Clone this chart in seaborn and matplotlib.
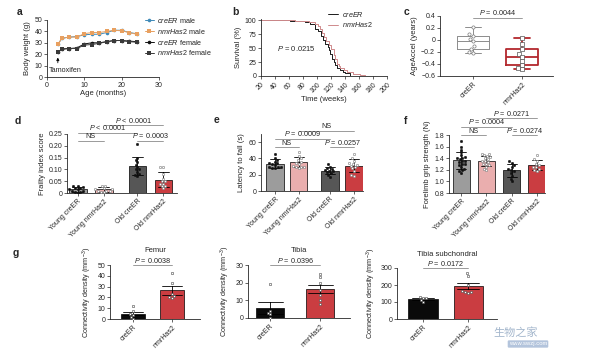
import numpy as np
import pandas as pd
import matplotlib.pyplot as plt
import seaborn as sns

sns.set_style("ticks")
plt.rcParams['font.family'] = ['Liberation Sans', 'DejaVu Sans']
plt.rcParams['mathtext.fontset'] = 'custom'
plt.rcParams['mathtext.rm'] = 'Liberation Sans'
plt.rcParams['mathtext.it'] = 'Liberation Sans:italic'
plt.rcParams['axes.linewidth'] = 0.6

W, H = 598, 353

# ---- a: body weight
ages = [3, 4, 6, 8, 10, 12, 14, 16, 18, 20, 22, 24]
creer_male = [29, 34, 35, 35.5, 37, 37.5, 37.5, 39, 41, 41, 39, 38]
has2_male = [29, 34, 35, 35, 38, 39, 39, 40, 41, 40.5, 39, 37.5]
creer_female = [22, 24.5, 25, 25.5, 29, 30, 30, 31, 32, 32, 31.5, 31]
has2_female = [22, 24.5, 25, 25, 28, 28.5, 29.5, 31, 32, 32, 31, 30.5]

# ---- b: survival
creer_weeks = [20, 62, 75, 83, 90, 97, 101, 105, 109, 112, 115, 117, 119, 121, 124, 126, 129, 133, 137, 140, 147]
creer_surv = [100, 99, 98, 96, 93, 84, 80, 72, 65, 58, 52, 46, 39, 31, 25, 19, 14, 10, 7, 5, 0]
has2_weeks = [20, 68, 80, 88, 97, 101, 104, 107, 110, 113, 117, 120, 124, 126, 128, 131, 133, 138, 143, 152, 161, 168]
has2_surv = [100, 99, 98, 97, 93, 90, 84, 77, 69, 62, 55, 48, 37, 30, 22, 18, 14, 11, 8, 4, 1, 0]

# ---- c: AgeAccel
c_groups = ['creER', 'nmrHas2']
c_creer = [0.22, 0.10, 0.07, 0.02, -0.02, -0.10, -0.15, -0.20, -0.21]
c_has2 = [0.03, -0.07, -0.15, -0.24, -0.28, -0.35, -0.42, -0.47, -0.49]

# ---- d, e, f: four groups
groups4 = ['Young creER', 'Young nmrHas2', 'Old creER', 'Old nmrHas2']
colors4 = ['#9c9c9c', '#f4a4a4', '#565656', '#e2252b']
d_vals = [
    [0, 0.005, 0.01, 0.015, 0.02, 0.025, 0.03, 0.03, 0.01, 0.02, 0.005, 0.015],
    [0.005, 0.01, 0.015, 0.02, 0.03, 0.03, 0.01, 0.005, 0.015, 0.01],
    [0.206, 0.15, 0.14, 0.13, 0.12, 0.11, 0.10, 0.09, 0.08, 0.075, 0.07, 0.10],
    [0.11, 0.11, 0.08, 0.06, 0.05, 0.04, 0.03, 0.03, 0.02, 0.04, 0.05],
]
e_vals = [
    [45, 40, 38, 36, 35, 34, 33, 32, 30, 29, 28, 28, 30],
    [48, 43, 40, 38, 36, 35, 33, 31, 30, 29, 28, 30],
    [33, 30, 28, 27, 26, 25, 24, 23, 22, 20, 17],
    [45, 40, 37, 34, 32, 31, 30, 28, 25, 20, 18, 33],
]
f_vals = [
    [1.7, 1.6, 1.55, 1.5, 1.45, 1.42, 1.4, 1.38, 1.35, 1.33, 1.3, 1.28, 1.25, 1.22, 1.2, 1.18, 1.15, 1.4, 1.36, 1.3],
    [1.48, 1.47, 1.45, 1.44, 1.42, 1.4, 1.38, 1.35, 1.33, 1.3, 1.28, 1.25, 1.22, 1.2, 1.3, 1.36],
    [1.35, 1.32, 1.28, 1.25, 1.2, 1.18, 1.15, 1.1, 1.05, 1.0, 1.22],
    [1.46, 1.38, 1.35, 1.3, 1.28, 1.25, 1.22, 1.2, 1.18, 1.25],
]

# ---- g: connectivity density
groups2 = ['creER', 'nmrHas2']
femur_vals = [[12, 7, 5, 4, 2, 0], [43, 33, 23, 21, 20, 19]]
tibia_vals = [[19, 4, 3, 2, 0], [25, 23, 20, 16, 13, 10, 8]]
sub_vals = [[128, 125, 126, 110, 100], [270, 255, 200, 160, 155, 158, 165]]

fig = plt.figure(figsize=(5.98, 3.53), dpi=100)


def px_axes(l, r, t, b):
    ax = fig.add_axes([l / W, 1 - b / H, (r - l) / W, (b - t) / H])
    ax.tick_params(labelsize=5, length=2, width=0.5, pad=1.5)
    sns.despine(ax=ax)
    return ax


def bracket(ax, x1, x2, y, text):
    ax.plot([x1, x2], [y, y], color='#8a8a8a', lw=0.6, clip_on=False)
    ax.annotate(text, xy=((x1 + x2) / 2, y), xytext=(0, 0.3), textcoords='offset points',
                ha='center', va='bottom', fontsize=5.2, annotation_clip=False)


def bar_panel(ax, pos, groups, values, colors, styles, width, err, capsize=0.4):
    df = pd.DataFrame({
        'pos': np.repeat(pos, [len(v) for v in values]),
        'grp': np.repeat(groups, [len(v) for v in values]),
        'val': np.concatenate(values),
    })
    sns.barplot(data=df, x='pos', y='val', hue='grp', palette=dict(zip(groups, colors)),
                native_scale=True, dodge=False, errorbar=err, capsize=capsize, width=width,
                edgecolor='black', linewidth=0.5,
                err_kws={'color': 'black', 'linewidth': 0.6}, legend=False, ax=ax)
    for p, v, (mk, fc, ec) in zip(pos, values, styles):
        sns.swarmplot(x=[p] * len(v), y=v, native_scale=True, orient='v', marker=mk, size=1.7,
                      color=fc, edgecolor=ec, linewidth=0.4, ax=ax)
    ax.set_xlabel('')
    ax.set_ylabel('')


def rot_labels(ax, pos, labels):
    ax.set_xticks(pos, labels, rotation=45, ha='right', rotation_mode='anchor')


# ================= a
ax = px_axes(47, 159, 20, 77)
series = [
    (creer_male, '#3f8ab8', 'o', r'$\mathit{creER}$ male'),
    (has2_male, '#e8a060', 's', r'$\mathit{nmrHas2}$ male'),
    (creer_female, '#111111', 'o', r'$\mathit{creER}$ female'),
    (has2_female, '#3a3a3a', 's', r'$\mathit{nmrHas2}$ female'),
]
for vals, col, mk, lab in series:
    sns.lineplot(x=ages, y=vals, color=col, marker=mk, markersize=2.6, markeredgewidth=0,
                 linewidth=0.7, label=lab, ax=ax)
ax.set_xlim(0, 30)
ax.set_ylim(0, 50)
ax.set_xticks([0, 10, 20, 30])
ax.set_yticks([0, 10, 20, 30, 40, 50])
ax.set_xlabel('Age (months)', fontsize=5.5, labelpad=1)
ax.set_ylabel('Body weight (g)', fontsize=5.5, labelpad=2)
ax.annotate('', xy=(2.9, 19.5), xytext=(2.9, 10),
            arrowprops=dict(arrowstyle='-|>', lw=0.6, color='black', mutation_scale=4))
ax.text(5, 6, 'Tamoxifen', ha='center', va='center', fontsize=5.2)
ax.legend(loc='upper left', bbox_to_anchor=(145 / W, 1 - 16 / H), bbox_transform=fig.transFigure,
          frameon=False, fontsize=5.2, handlelength=1.2, handletextpad=0.5, labelspacing=0.25,
          borderaxespad=0, borderpad=0)

# ================= b
ax = px_axes(261, 387, 19, 76)
sns.lineplot(x=creer_weeks, y=creer_surv, color='#1a1a1a', linewidth=0.7, drawstyle='steps-post',
             label=r'$\mathit{creER}$', ax=ax)
sns.lineplot(x=has2_weeks, y=has2_surv, color='#cf8a8c', linewidth=0.7, drawstyle='steps-post',
             label=r'$\mathit{nmrHas2}$', ax=ax)
ax.set_xlim(20, 200)
ax.set_ylim(0, 102)
ax.set_yticks([0, 25, 50, 75, 100])
xt = list(range(20, 201, 20))
rot_labels(ax, xt, [str(t) for t in xt])
ax.set_xlabel('Time (weeks)', fontsize=5.5, labelpad=1)
ax.set_ylabel('Survival (%)', fontsize=5.5, labelpad=2)
ax.text(43, 50, r'$\mathit{P}$ = 0.0215', fontsize=5.5, va='center')
ax.legend(loc='upper left', bbox_to_anchor=(328 / W, 1 - 10 / H), bbox_transform=fig.transFigure,
          frameon=False, fontsize=5.2, handlelength=1.4, handletextpad=0.5, labelspacing=0.2,
          borderaxespad=0, borderpad=0)

# ================= c
ax = px_axes(440, 553, 16, 76)
sns.boxplot(x=['creER'] * len(c_creer), y=c_creer, order=c_groups, whis=(0, 100), fill=False,
            color='#8c8c8c', linewidth=0.7, width=0.65, ax=ax)
sns.boxplot(x=['nmrHas2'] * len(c_has2), y=c_has2, order=c_groups, whis=(0, 100), fill=False,
            color='#b3282d', linewidth=1.3, width=0.65, ax=ax)
sns.swarmplot(x=['creER'] * len(c_creer), y=c_creer, order=c_groups, marker='o', size=2.3,
              color='white', edgecolor='#7a7a7a', linewidth=0.5, ax=ax)
sns.swarmplot(x=['nmrHas2'] * len(c_has2), y=c_has2, order=c_groups, marker='s', size=2.3,
              color='white', edgecolor='#555555', linewidth=0.5, ax=ax)
ax.set_xlim(-0.67, 1.63)
ax.set_ylim(-0.6, 0.4)
ax.set_yticks([0.4, 0.2, 0, -0.2, -0.4, -0.6], ['0.4', '0.2', '0', '\u22120.2', '\u22120.4', '\u22120.6'])
rot_labels(ax, [0, 1], c_groups)
ax.set_ylabel('AgeAccel (years)', fontsize=5.5, labelpad=2)
bracket(ax, 0, 1, 0.37, r'$\mathit{P}$ = 0.0044')

# ================= d
pts_styles = [('o', '#111111', '#111111'), ('o', 'white', '#777777'),
              ('o', '#111111', '#111111'), ('o', 'white', '#777777')]
pos_de = [0, 1, 2.3, 3.3]
ax = px_axes(67, 177, 134, 193)
bar_panel(ax, pos_de, groups4, d_vals, colors4, pts_styles, 0.68, 'sd')
ax.set_xlim(-0.41, 3.82)
ax.set_ylim(0, 0.25)
ax.set_yticks([0, 0.05, 0.10, 0.15, 0.20, 0.25], ['0', '0.05', '0.10', '0.15', '0.20', '0.25'])
rot_labels(ax, pos_de, groups4)
ax.set_ylabel('Frailty index score', fontsize=5.5, labelpad=2)
bracket(ax, 0, 1, 0.222, 'NS')
bracket(ax, 0, 2.3, 0.256, r'$\mathit{P}$ < 0.0001')
bracket(ax, 1, 3.3, 0.288, r'$\mathit{P}$ < 0.0001')
bracket(ax, 2.3, 3.3, 0.222, r'$\mathit{P}$ = 0.0003')

# ================= e
ax = px_axes(261, 363, 134, 191)
bar_panel(ax, pos_de, groups4, e_vals, colors4, pts_styles, 0.72, 'sd')
ax.set_xlim(-0.58, 3.68)
ax.set_ylim(0, 70)
ax.set_yticks([0, 20, 40, 60])
rot_labels(ax, pos_de, groups4)
ax.set_ylabel('Latency to fall (s)', fontsize=5.5, labelpad=2)
bracket(ax, 0, 1, 54, 'NS')
bracket(ax, 0, 2.3, 64, r'$\mathit{P}$ = 0.0009')
bracket(ax, 1, 3.3, 74, 'NS')
bracket(ax, 2.3, 3.3, 54, r'$\mathit{P}$ = 0.0257')

# ================= f
pos_f = [0, 1, 2, 3]
ax = px_axes(449, 545, 135, 193)
bar_panel(ax, pos_f, groups4, f_vals, colors4, pts_styles, 0.67, 'sd')
ax.set_xlim(-0.49, 3.33)
ax.set_ylim(0.8, 1.8)
ax.set_yticks([0.8, 1.0, 1.2, 1.4, 1.6, 1.8], ['0.8', '1.0', '1.2', '1.4', '1.6', '1.8'])
rot_labels(ax, pos_f, groups4)
ax.set_ylabel('Forelimb grip strength (N)', fontsize=5.5, labelpad=2)
bracket(ax, 0, 1, 1.80, 'NS')
bracket(ax, 0, 2, 1.94, r'$\mathit{P}$ = 0.0004')
bracket(ax, 1, 3, 2.09, r'$\mathit{P}$ = 0.0271')
bracket(ax, 2, 3, 1.80, r'$\mathit{P}$ = 0.0274')

# ================= g
g_colors = ['#0a0a0a', '#e2252b']
g_styles = [('s', 'white', '#444444'), ('s', 'white', '#444444')]
g_panels = [
    ((110, 200, 265, 319), femur_vals, 'Femur', (0, 50), [0, 10, 20, 30, 40, 50], (-0.59, 1.72), 0.6,
     50, r'$\mathit{P}$ = 0.0038'),
    ((248, 350, 265, 318), tibia_vals, 'Tibia', (0, 30), [0, 10, 20, 30], (-0.44, 1.6), 0.55,
     30, r'$\mathit{P}$ = 0.0396'),
    ((397, 497, 268, 319), sub_vals, 'Tibia subchondral', (0, 300), [0, 100, 200, 300], (-0.58, 1.64), 0.65,
     300, r'$\mathit{P}$ = 0.0172'),
]
for rect, vals, title, ylim, yt, xlim, width, py, ptxt in g_panels:
    ax = px_axes(*rect)
    bar_panel(ax, [0, 1], groups2, vals, g_colors, g_styles, width, 'se', capsize=0.5)
    ax.set_xlim(*xlim)
    ax.set_ylim(*ylim)
    ax.set_yticks(yt)
    rot_labels(ax, [0, 1], groups2)
    ax.set_ylabel('Connectivity density (mm$^{-3}$)', fontsize=5.2, labelpad=2)
    ax.set_title(title, fontsize=5.5, pad=9)
    bracket(ax, 0, 1, py, ptxt)

# panel letters
for letter, x, y in [('a', 17, 17), ('b', 232, 17), ('c', 404, 17), ('d', 15, 126),
                     ('e', 214, 125), ('f', 404, 126), ('g', 13, 258)]:
    fig.text(x / W, 1 - y / H, letter, fontsize=7.5, fontweight='bold', va='bottom')

# watermark
fig.text(493 / W, 1 - 338 / H, '生物之家', fontsize=8, color='#a3b6cc',
         family=['Noto Sans CJK SC', 'DejaVu Sans'], va='bottom')
fig.text(528 / W, 1 - 344 / H, 'www.swzj.com', fontsize=4.2, color='white', ha='center', va='center',
         bbox=dict(boxstyle='round,pad=0.2', fc='#b3c4dc', ec='none'))

fig.savefig('out.png', dpi=100)
